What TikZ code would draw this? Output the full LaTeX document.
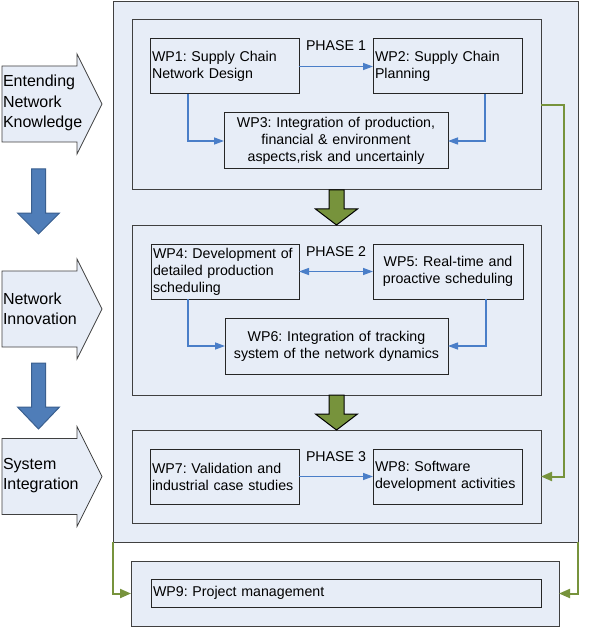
\documentclass[tikz,border=0pt]{standalone}
\usepackage{fontspec}
\setmainfont{Liberation Sans}
\usetikzlibrary{arrows.meta,calc}
\definecolor{boxfill}{HTML}{E7EDF7}
\definecolor{linkblue}{HTML}{4A7EC8}
\definecolor{olivegreen}{HTML}{77933C}
\definecolor{steel}{HTML}{4F7DB8}
\definecolor{steeldark}{HTML}{3A5F8F}
\definecolor{framegray}{HTML}{404040}
\frenchspacing
\begin{document}
\begin{tikzpicture}[x=1pt,y=-1pt,
  every node/.style={font=\fontsize{14.2}{17}\selectfont\frenchspacing, inner sep=0pt, outer sep=0pt},
  framebox/.style={draw=framegray, line width=1pt, fill=boxfill},
  wpbox/.style={draw=black!85, line width=1pt, fill=boxfill, inner xsep=2pt, inner ysep=0pt},
  link/.style={draw=linkblue, line width=1.3pt, -{Triangle[length=10pt,width=7pt]}},
  dlink/.style={draw=linkblue, line width=1.3pt, {Triangle[length=10pt,width=7pt]}-{Triangle[length=10pt,width=7pt]}},
  glink/.style={draw=olivegreen, line width=2pt, -{Triangle[length=11pt,width=9pt]}},
  garrow/.style={draw=black, line width=1pt, fill=olivegreen},
  barrow/.style={draw=steeldark, line width=1pt, fill=steel},
  sidearrow/.style={draw=framegray, line width=0.8pt, fill=boxfill},
  sidetext/.style={font=\fontsize{16}{20.5}\selectfont\frenchspacing, anchor=west, align=left}]
\useasboundingbox (0,0) rectangle (601,628);
\fill[white] (0,0) rectangle (601,628);

% outer frames
\node[framebox, minimum width=465pt, minimum height=540pt] (outer) at (345.5,272) {};
\node[framebox, minimum width=409pt, minimum height=170pt] (p1) at (336.5,105) {};
\node[framebox, minimum width=409pt, minimum height=170pt] (p2) at (336.5,310) {};
\node[framebox, minimum width=409pt, minimum height=93pt] (p3) at (336.5,476.5) {};
\node[framebox, minimum width=428pt, minimum height=65pt] (p9) at (345,593.5) {};

% phase labels
\node (ph1) at (336,46) {PHASE 1};
\node (ph2) at (336,252) {PHASE 2};
\node (ph3) at (336,457) {PHASE 3};

% work packages
\node[wpbox, minimum width=149pt, minimum height=55pt, text width=145pt, align=left] (wp1) at (224.5,66.5) {WP1: Supply Chain\\Network Design};
\node[wpbox, minimum width=149pt, minimum height=55pt, text width=145pt, align=left] (wp2) at (447.5,66.5) {WP2: Supply Chain\\Planning};
\node[wpbox, minimum width=224pt, minimum height=56pt, text width=220pt, align=center] (wp3) at (336,141) {WP3: Integration of production,\\financial \& environment\\aspects,risk and uncertainly};
\node[wpbox, minimum width=148pt, minimum height=55pt, text width=144pt, align=left] (wp4) at (225,271.5) {WP4: Development of\\detailed production\\scheduling};
\node[wpbox, minimum width=150pt, minimum height=55pt, text width=146pt, align=center] (wp5) at (448,271.5) {WP5: Real-time and\\proactive scheduling};
\node[wpbox, minimum width=223pt, minimum height=56pt, text width=219pt, align=center] (wp6) at (336.5,346) {WP6: Integration of tracking\\system of the network dynamics};
\node[wpbox, minimum width=149pt, minimum height=55pt, text width=145pt, align=left] (wp7) at (224.5,476.5) {WP7: Validation and\\industrial case studies};
\node[wpbox, minimum width=149pt, minimum height=55pt, text width=145pt, align=left] (wp8) at (447.5,476.5) {WP8: Software\\development activities};
\node[wpbox, minimum width=390pt, minimum height=28pt, text width=386pt, align=left] (wp9) at (346,593) {WP9: Project management};

% blue connectors
\draw[link] (wp1.east) -- (wp2.west);
\draw[link] ($(wp1.south west)+(38,0)$) |- (wp3.west);
\draw[link] ($(wp2.south east)+(-37,0)$) |- (wp3.east);
\draw[dlink] (wp4.east) -- (wp5.west);
\draw[link] ($(wp4.south west)+(37,0)$) |- (wp6.west);
\draw[link] ($(wp5.south east)+(-37,0)$) |- (wp6.east);
\draw[link] (wp7.east) -- (wp8.west);

% green connectors
\coordinate (gr) at (564,105);
\draw[glink] (p1.east) -- (gr) |- (p3.east);
\draw[glink] (outer.south west) |- (p9.west);
\draw[glink] (outer.south east) |- (p9.east);

% green block arrows between phases
\draw[garrow] ($(p1.south)+(-7.5,0)$) -- ++(15,0) -- ++(0,19) -- ++(13.5,0) -- (p2.north) -- ++(-21,-16) -- ++(13.5,0) -- cycle;
\draw[garrow] ($(p2.south)+(-7.5,0)$) -- ++(15,0) -- ++(0,19) -- ++(13.5,0) -- (p3.north) -- ++(-21,-16) -- ++(13.5,0) -- cycle;

% left side arrows
\draw[sidearrow] (2,66) -- (77,66) -- (77,54) -- (102,104) -- (77,154) -- (77,142) -- (2,142) -- cycle;
\draw[sidearrow] (2,271) -- (77,271) -- (77,259) -- (102,309) -- (77,359) -- (77,347) -- (2,347) -- cycle;
\draw[sidearrow] (2,438.5) -- (77,438.5) -- (77,426.5) -- (102,476.5) -- (77,526.5) -- (77,514.5) -- (2,514.5) -- cycle;
\node[sidetext] (s1) at (3,103) {Entending\\Network\\Knowledge};
\node[sidetext] (s2) at (3,309) {Network\\Innovation};
\node[sidetext] (s3) at (3,475.5) {System\\Integration};

% blue down arrows
\draw[barrow] (31.5,169) -- (45.5,169) -- (45.5,213) -- (59.5,213) -- (38.5,234) -- (17.5,213) -- (31.5,213) -- cycle;
\draw[barrow] (31.5,363) -- (45.5,363) -- (45.5,407) -- (59.5,407) -- (38.5,429) -- (17.5,407) -- (31.5,407) -- cycle;
\end{tikzpicture}
\end{document}
